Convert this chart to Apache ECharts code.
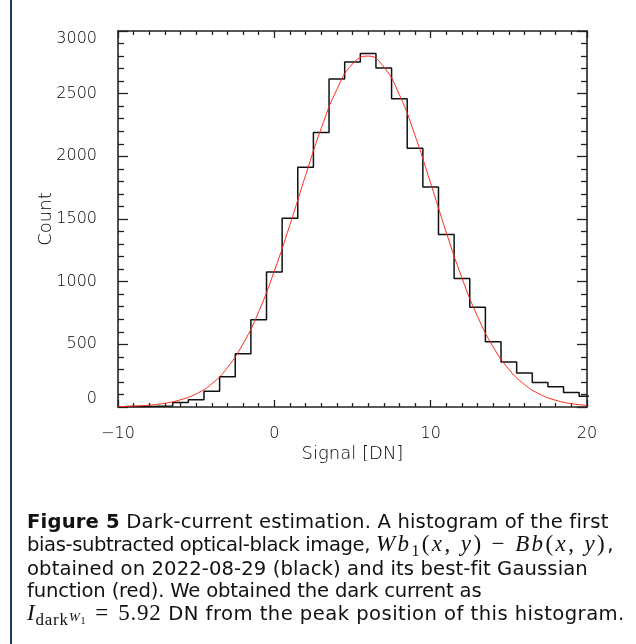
<!DOCTYPE html>
<html><head><meta charset="utf-8">
<script src="https://cdn.jsdelivr.net/npm/echarts@6/dist/echarts.min.js"></script>
<style>
html,body{margin:0;padding:0;background:#fff;}
#wrap{position:relative;width:636px;height:644px;overflow:hidden;background:#fff;}
#chart{position:absolute;left:0;top:0;width:636px;height:644px;}
#bar{position:absolute;left:10px;top:0;width:2px;height:644px;background:#1d3d6c;}
#cap{position:absolute;left:27px;top:511px;font-family:'DejaVu Sans',sans-serif;font-size:19.6px;line-height:22.3px;color:#111;white-space:nowrap;}
.math{font-family:'Liberation Serif',serif;font-size:23px;letter-spacing:2.4px;}
.math i{font-style:italic;}
.sub{font-size:16px;position:relative;top:5px;}
.tight{letter-spacing:-0.4px;}
.eq{margin:0 9px;}
</style></head>
<body>
<div id="wrap">
<div id="chart"></div>
<div id="bar"></div>
<div id="cap"><span style="letter-spacing:0.17px"><b>Figure 5</b> Dark-current estimation. A histogram of the first</span><br><span class="tight">bias-subtracted optical-black image, </span><span class="math"><i>Wb</i><span class="sub">1</span>(<i>x</i>, <i>y</i>) − <i>Bb</i>(<i>x</i>, <i>y</i>)</span>,<br><span style="letter-spacing:0.1px">obtained on 2022-08-29 (black) and its best-fit Gaussian</span><br><span style="letter-spacing:-0.18px">function (red). We obtained the dark current as</span><br><span class="math" style="letter-spacing:0.8px"><i>I</i><span class="sub" style="font-size:17px">dark</span><i style="font-size:13px;position:relative;top:1px">W</i><span style="font-size:10px;position:relative;top:4px">1</span><span class="eq">=</span>5.92</span><span style="letter-spacing:0.45px"> DN from the peak position of this histogram.</span></div>
</div>
<script>
// Histogram bin centres (DN) and counts
const binCenters = [-9,-8,-7,-6,-5,-4,-3,-2,-1,0,1,2,3,4,5,6,7,8,9,10,11,12,13,14,15,16,17,18,19,20];
const binCounts  = [3,5,8,35,58,125,242,425,697,1077,1505,1912,2191,2617,2752,2820,2704,2459,2065,1755,1377,1026,796,521,360,271,196,162,115,85];
// Best-fit Gaussian curve
const fitX = [-10,-9,-8,-7,-6,-5,-4,-3,-2,-1,0,1,2,3,4,5,6,7,8,9,10,11,12,13,14,15,16,17,18,19,20];
const fitY = [3,7,15,30,58,105,185,315,505,760,1085,1455,1848,2223,2534,2737,2800,2713,2491,2167,1785,1393,1030,722,479,301,179,101,54,27,13];
// Tick labels
const xTicks = [-10,0,10,20];
const yTicks = [0,500,1000,1500,2000,2500,3000];

const binWidth = binCenters[1]-binCenters[0];
const histData = binCenters.map((c,i)=>[c-binWidth/2, binCounts[i]]);
histData.push([binCenters[binCenters.length-1]+binWidth/2, binCounts[binCounts.length-1]]);
const fitData = fitX.map((x,i)=>[x, fitY[i]]);

const axCol = '#222';
const lblFont = {fontFamily:'DejaVu Sans', fontSize:16, color:'#000', fontWeight:200};
const nameFont = {fontFamily:'DejaVu Sans', fontSize:18, color:'#000', fontWeight:200};
const fmt = v => (v<0 ? '\u2212'+Math.abs(v) : String(v));

function xAx(pos, show){
  return {type:'value', min:xTicks[0], max:xTicks[xTicks.length-1], interval:xTicks[1]-xTicks[0], position:pos,
    axisLine:{show:true,onZero:false,lineStyle:{color:axCol,width:1.6}},
    axisTick:{show:true,inside:true,length:7,lineStyle:{color:axCol,width:1.3}},
    minorTick:{show:true,splitNumber:10,length:4,lineStyle:{color:axCol,width:1.3}},
    splitLine:{show:false}, minorSplitLine:{show:false},
    axisLabel:Object.assign({show:show,margin:19,formatter:fmt},lblFont),
    name: show ? 'Signal [DN]' : '', nameLocation:'middle', nameGap:38, nameMoveOverlap:false,
    nameTextStyle:nameFont};
}
function yAx(pos, show){
  return {type:'value', min:yTicks[0], max:yTicks[yTicks.length-1], interval:yTicks[1]-yTicks[0], position:pos,
    axisLine:{show:true,onZero:false,lineStyle:{color:axCol,width:1.6}},
    axisTick:{show:true,inside:true,length:10,lineStyle:{color:axCol,width:1.3}},
    minorTick:{show:true,splitNumber:5,length:6,lineStyle:{color:axCol,width:1.3}},
    splitLine:{show:false}, minorSplitLine:{show:false},
    axisLabel:Object.assign({show:show,margin:21,formatter:fmt,
      verticalAlignMinLabel:'bottom', verticalAlignMaxLabel:'top'},lblFont),
    name: show ? 'Count' : '', nameLocation:'middle', nameGap:63, nameRotate:90, nameMoveOverlap:false,
    nameTextStyle:nameFont};
}

const chart = echarts.init(document.getElementById('chart'), null, {renderer:'canvas'});
chart.setOption({
  animation:false,
  backgroundColor:'transparent',
  grid:{left:118,right:49,top:31,bottom:237,containLabel:false},
  xAxis:[xAx('bottom',true), xAx('top',false)],
  yAxis:[yAx('left',true), yAx('right',false)],
  series:[
    {type:'line', name:'histogram', step:'end', data:histData, symbol:'none', clip:true,
     xAxisIndex:0, yAxisIndex:0, lineStyle:{color:'#111',width:1.5}, z:2},
    {type:'line', name:'Gaussian fit', smooth:true, data:fitData, symbol:'none', clip:true,
     xAxisIndex:0, yAxisIndex:0, lineStyle:{color:'#ff2a1a',width:1}, z:3}
  ]
});
</script>
</body></html>
